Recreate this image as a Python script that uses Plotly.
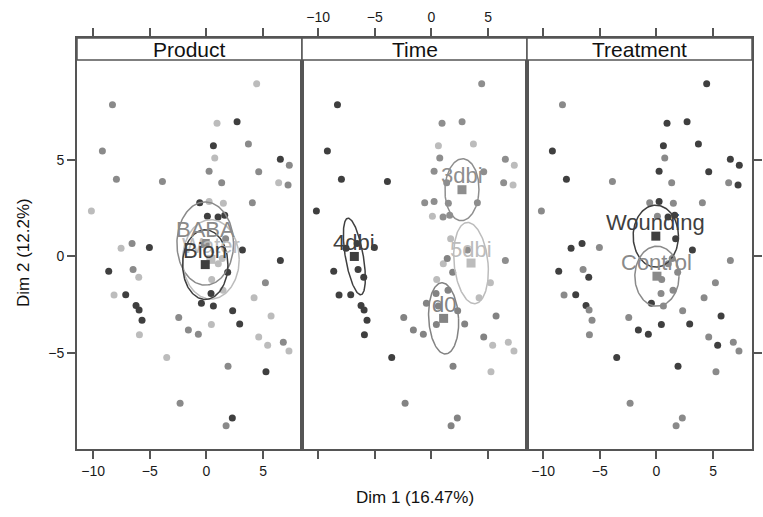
import numpy as np
import plotly.graph_objects as go

# ---------------- data ----------------
dim1 = [4.44, -8.29, 0.94, 2.71, 0.62, 3.71, -9.18, 0.74, 6.53, 7.32,
        -7.94, -3.88, 0.24, 1.35, 4.62, 6.38, 7.21, -10.15, -0.59, 0.24,
        1.50, 4.06, 0.09, 1.03, 1.62, -6.56, -7.53, -5.03, 3.18, 6.53,
        -8.62, -6.47, -5.97, 1.88, 0.47, -8.15, -7.12, 0.41, 1.47, 5.21,
        4.21, -6.21, -5.94, -0.44, 0.62, 2.32, 5.71, -5.68, -2.44, -1.59,
        -0.71, 0.44, 2.94, -5.91, 4.62, 5.41, 6.79, 7.29, -3.50, 1.91,
        5.26, -2.32, 2.29, 1.74, 1.70, 1.40, 1.05]
dim2 = [8.92, 7.84, 6.89, 6.96, 5.72, 5.81, 5.45, 5.09, 5.03, 4.71,
        3.99, 3.87, 4.40, 3.81, 4.38, 3.81, 3.69, 2.35, 2.77, 2.84,
        2.75, 2.77, 2.08, 2.04, 2.13, 0.67, 0.43, 0.46, 0.34, -0.21,
        -0.76, -0.67, -1.08, -0.81, -1.19, -1.99, -1.98, -1.91, -1.74, -1.36,
        -2.13, -2.54, -2.77, -2.42, -2.56, -2.80, -3.08, -3.30, -3.16, -3.80,
        -4.02, -3.51, -3.49, -4.04, -4.16, -4.59, -4.43, -4.88, -5.22, -5.67,
        -5.96, -7.59, -8.35, -8.75, 0.92, -0.10, -0.38]
product = ["Water", "BABA", "Water", "Bion", "Bion", "BABA", "BABA", "Water", "Bion", "BABA",
           "BABA", "BABA", "BABA", "BABA", "BABA", "Water", "BABA", "Water", "Bion", "Water",
           "Water", "BABA", "Bion", "Bion", "Bion", "BABA", "Water", "Bion", "Bion", "Bion",
           "Bion", "BABA", "Water", "Bion", "Water", "Water", "Bion", "Bion", "Water", "BABA",
           "Water", "Bion", "Bion", "Bion", "Bion", "Bion", "Water", "Bion", "BABA", "BABA",
           "BABA", "Water", "Bion", "Water", "Water", "Water", "BABA", "Water", "Water", "BABA",
           "Bion", "BABA", "Bion", "BABA", "BABA", "Water", "Water"]
time = ["3dbi", "4dbi", "3dbi", "3dbi", "5dbi", "5dbi", "4dbi", "3dbi", "3dbi", "5dbi",
        "4dbi", "4dbi", "3dbi", "3dbi", "3dbi", "3dbi", "5dbi", "4dbi", "3dbi", "3dbi",
        "3dbi", "3dbi", "5dbi", "3dbi", "3dbi", "4dbi", "4dbi", "4dbi", "3dbi", "3dbi",
        "4dbi", "4dbi", "4dbi", "d0", "5dbi", "4dbi", "4dbi", "d0", "d0", "5dbi",
        "5dbi", "4dbi", "4dbi", "d0", "d0", "d0", "d0", "4dbi", "d0", "d0",
        "d0", "d0", "d0", "4dbi", "d0", "5dbi", "5dbi", "5dbi", "4dbi", "d0",
        "5dbi", "d0", "d0", "d0", "5dbi", "d0", "5dbi"]
treatment = ["Wounding", "Control", "Wounding", "Wounding", "Wounding", "Wounding", "Wounding", "Control", "Wounding", "Wounding",
             "Wounding", "Control", "Wounding", "Control", "Wounding", "Control", "Wounding", "Control", "Control", "Wounding",
             "Control", "Control", "Control", "Wounding", "Wounding", "Wounding", "Wounding", "Control", "Wounding", "Control",
             "Wounding", "Control", "Wounding", "Control", "Control", "Control", "Wounding", "Control", "Control", "Control",
             "Control", "Wounding", "Control", "Wounding", "Control", "Control", "Wounding", "Control", "Control", "Wounding",
             "Wounding", "Wounding", "Wounding", "Control", "Control", "Wounding", "Control", "Control", "Wounding", "Wounding",
             "Control", "Control", "Control", "Control", "Wounding", "Control", "Control"]

panel_names = ["Product", "Time", "Treatment"]

# confidence ellipses (centre, half-widths, shear) per level
product_levels = ["BABA", "Water", "Bion"]
product_cx = [-0.10, 0.40, -0.10]
product_cy = [0.67, -0.15, -0.42]
product_rx = [2.50, 2.50, 2.00]
product_ry = [2.15, 2.05, 1.80]
product_sh = [0.0, 0.0, 0.0]

time_levels = ["3dbi", "4dbi", "5dbi", "d0"]
time_cx = [2.70, -6.80, 3.50, 1.08]
time_cy = [3.45, 0.00, -0.34, -3.20]
time_rx = [1.50, 0.80, 1.50, 1.32]
time_ry = [1.60, 1.98, 2.10, 1.84]
time_sh = [0.05, -0.55, -0.30, -0.15]

treat_levels = ["Wounding", "Control"]
treat_cx = [-0.05, 0.05]
treat_cy = [1.05, -1.02]
treat_rx = [2.00, 1.95]
treat_ry = [1.60, 1.55]
treat_sh = [0.0, 0.0]

x_ticks = [-10, -5, 0, 5]
y_ticks = [-5, 0, 5]

# ---------------- styles ----------------
DARK, MID, LIGHT = "#3f3f3f", "#8a8a8a", "#bcbcbc"
colors = {
    "BABA": MID, "Bion": DARK, "Water": LIGHT,
    "3dbi": "#8e8e8e", "4dbi": DARK, "5dbi": LIGHT, "d0": "#838383",
    "Wounding": DARK, "Control": MID,
}
FONT = "Liberation Sans, Arial, sans-serif"
AXC = "#555555"

XR = [-11.42, 8.44]
YR = [-9.95, 11.29]
STRIP_LO = 10.15

fig = go.Figure()
groups = [product, time, treatment]
ells = [
    (product_levels, product_cx, product_cy, product_rx, product_ry, product_sh),
    (time_levels, time_cx, time_cy, time_rx, time_ry, time_sh),
    (treat_levels, treat_cx, treat_cy, treat_rx, treat_ry, treat_sh),
]
t = np.linspace(0, 2 * np.pi, 160)
annotations = []
shapes = []
for i in range(3):
    xa = "x" if i == 0 else f"x{i + 1}"
    ya = "y" if i == 0 else f"y{i + 1}"
    g = groups[i]
    levels, cx, cy, rx, ry, sh = ells[i]
    for lev in levels:
        xs = [dim1[k] for k in range(len(dim1)) if g[k] == lev]
        ys = [dim2[k] for k in range(len(dim2)) if g[k] == lev]
        fig.add_trace(go.Scatter(x=xs, y=ys, mode="markers", xaxis=xa, yaxis=ya,
                                 marker=dict(size=7, color=colors[lev]),
                                 showlegend=False, hoverinfo="skip"))
    for j, lev in enumerate(levels):
        ex = cx[j] + rx[j] * np.cos(t) + sh[j] * np.sin(t)
        ey = cy[j] + ry[j] * np.sin(t)
        fig.add_trace(go.Scatter(x=ex, y=ey, mode="lines", xaxis=xa, yaxis=ya,
                                 line=dict(color=colors[lev], width=1.5),
                                 showlegend=False, hoverinfo="skip"))
    for j, lev in enumerate(levels):
        fig.add_trace(go.Scatter(x=[cx[j]], y=[cy[j]], mode="markers", xaxis=xa, yaxis=ya,
                                 marker=dict(size=9, symbol="square", color=colors[lev]),
                                 showlegend=False, hoverinfo="skip"))
        annotations.append(dict(x=cx[j], y=cy[j], xref=xa, yref=ya, text=lev,
                                showarrow=False, yshift=14,
                                font=dict(family=FONT, size=22, color=colors[lev])))
    # strip
    shapes.append(dict(type="rect", xref=f"{xa} domain", yref=ya, x0=0, x1=1,
                       y0=STRIP_LO, y1=YR[1], fillcolor="white",
                       line=dict(color=AXC, width=1.5), layer="above"))
    annotations.append(dict(x=0.5, y=(STRIP_LO + YR[1]) / 2, xref=f"{xa} domain", yref=ya,
                            text=panel_names[i], showarrow=False, yshift=0,
                            font=dict(family=FONT, size=21, color="#111111")))

axis_common = dict(range=XR, tickvals=x_ticks, ticks="outside", ticklen=8, tickwidth=1.5,
                   tickcolor=AXC, showline=True, linecolor=AXC, linewidth=2,
                   mirror="ticks", showgrid=False, zeroline=False, automargin=False,
                   tickfont=dict(family=FONT, size=14, color="#1a1a1a"))
yaxis_common = dict(range=YR, tickvals=y_ticks, showline=True, linecolor=AXC, linewidth=2,
                    mirror=True, showgrid=False, zeroline=False, automargin=False,
                    tickfont=dict(family=FONT, size=14, color="#1a1a1a"))

doms = [[0, 1 / 3], [1 / 3, 2 / 3], [2 / 3, 1]]
layout = dict(
    width=763, height=517, autosize=False,
    margin=dict(l=77, r=11, t=38, b=68, pad=0),
    paper_bgcolor="white", plot_bgcolor="white",
    showlegend=False,
    xaxis=dict(axis_common, domain=doms[0], anchor="y", side="bottom"),
    xaxis2=dict(axis_common, domain=doms[1], anchor="y2", side="top"),
    xaxis3=dict(axis_common, domain=doms[2], anchor="y3", side="bottom"),
    yaxis=dict(yaxis_common, anchor="x", side="left", ticks="outside", ticklen=8,
               tickwidth=1.5, tickcolor=AXC, showticklabels=True),
    yaxis2=dict(yaxis_common, anchor="x2", ticks="", showticklabels=False),
    yaxis3=dict(yaxis_common, anchor="x3", side="right", ticks="outside", ticklen=8,
                tickwidth=1.5, tickcolor=AXC, showticklabels=False),
)
annotations.append(dict(x=0.5, y=-0.117, xref="paper", yref="paper", text="Dim 1 (16.47%)",
                        showarrow=False, yanchor="middle",
                        font=dict(family=FONT, size=17, color="#111111")))
annotations.append(dict(x=-0.0785, y=0.477, xref="paper", yref="paper", text="Dim 2 (12.2%)",
                        showarrow=False, textangle=-90, xanchor="center", yanchor="middle",
                        font=dict(family=FONT, size=17, color="#111111")))
layout["annotations"] = annotations
layout["shapes"] = shapes
fig.update_layout(**layout)
fig.write_html("out.html", config={"displayModeBar": False},
               post_script="document.body.style.margin='0px';")
